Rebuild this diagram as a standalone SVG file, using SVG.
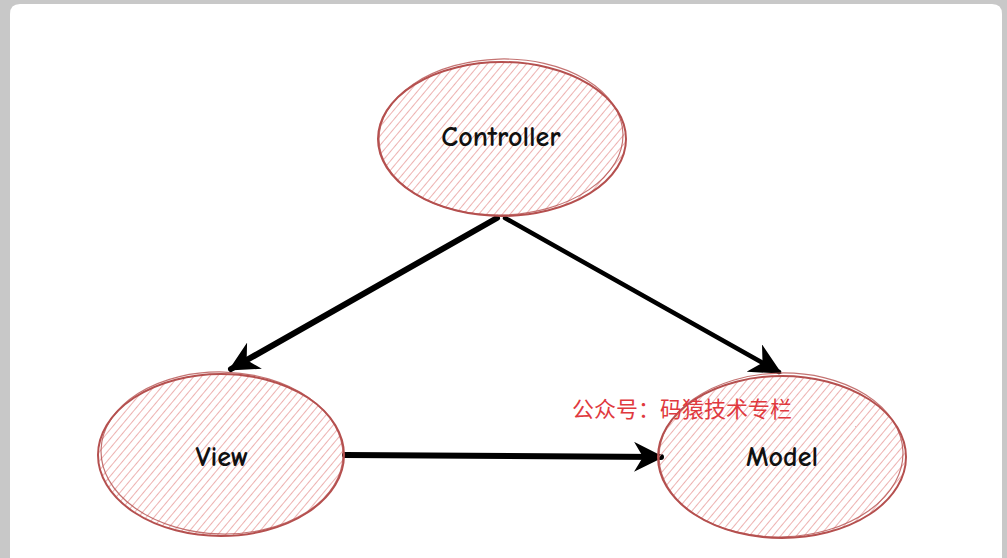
<svg xmlns="http://www.w3.org/2000/svg" width="1007" height="558" viewBox="0 0 1007 558">
<style>
.hach{fill:url(#hatch);}
.ring{fill:none;stroke:#b5504f;stroke-width:2;}
.ring2{fill:none;stroke:#b5504f;stroke-width:1.2;opacity:0.8;}
.lbl{font-family:"Comic Neue","Liberation Sans","Open Sans",sans-serif;font-size:28px;font-weight:bold;fill:#111;text-anchor:middle;}
.edge{stroke:#000;fill:none;stroke-linecap:round;}
.wm{font-family:"Noto Sans CJK SC",sans-serif;font-size:22px;fill:#e0393e;}
</style>
<defs>
<pattern id="hatch" width="6" height="6" patternUnits="userSpaceOnUse" patternTransform="rotate(40)">
<line x1="0" y1="0" x2="0" y2="6" stroke="#eba9a8" stroke-width="1.8"/>
</pattern>
<marker id="ah" viewBox="0 0 10 10" refX="9" refY="5" markerWidth="5" markerHeight="5" orient="auto" markerUnits="strokeWidth">
<path d="M0,0 L10,5 L0,10 L3,5 Z" fill="#000"/>
</marker>
<marker id="ah2" viewBox="0 0 10 10" refX="9" refY="5" markerWidth="7" markerHeight="7" orient="auto" markerUnits="strokeWidth">
<path d="M0,0 L10,5 L0,10 L3,5 Z" fill="#000"/>
</marker>
</defs>
<rect x="0" y="0" width="1007" height="558" fill="#c8c8c8"/>
<path d="M10,558 L10,14 Q10,4 20,4 L992,4 Q1002,4 1002,14 L1002,558 Z" fill="#ffffff"/>
<g id="connectors">
<line class="edge" x1="497" y1="218" x2="231" y2="369" stroke-width="6" marker-end="url(#ah)"/>
<line class="edge" x1="505" y1="218" x2="779" y2="372" stroke-width="4.5" marker-end="url(#ah2)"/>
<line class="edge" x1="345" y1="455" x2="661" y2="457" stroke-width="6" marker-end="url(#ah)"/>
</g>
<g id="controller">
<ellipse class="hach" cx="502" cy="139" rx="123" ry="77"/>
<ellipse class="ring" cx="502" cy="139" rx="124" ry="77"/>
<ellipse class="ring2" cx="501" cy="137" rx="122" ry="78" transform="rotate(-1.5 501 137)"/>
<text class="lbl" x="501" y="146">Controller</text>
</g>
<g id="view">
<ellipse class="hach" cx="221" cy="455" rx="122" ry="81"/>
<ellipse class="ring" cx="221" cy="455" rx="123" ry="81"/>
<ellipse class="ring2" cx="222" cy="453" rx="121" ry="81" transform="rotate(1.5 222 453)"/>
<text class="lbl" x="222" y="466">View</text>
</g>
<g id="model">
<ellipse class="hach" cx="782" cy="457" rx="123" ry="81"/>
<ellipse class="ring" cx="782" cy="457" rx="124" ry="81"/>
<ellipse class="ring2" cx="781" cy="455" rx="122" ry="82" transform="rotate(-1.5 781 455)"/>
<text class="lbl" x="782" y="466">Model</text>
</g>
<text class="wm" x="572" y="417">公众号：码猿技术专栏</text>
</svg>
